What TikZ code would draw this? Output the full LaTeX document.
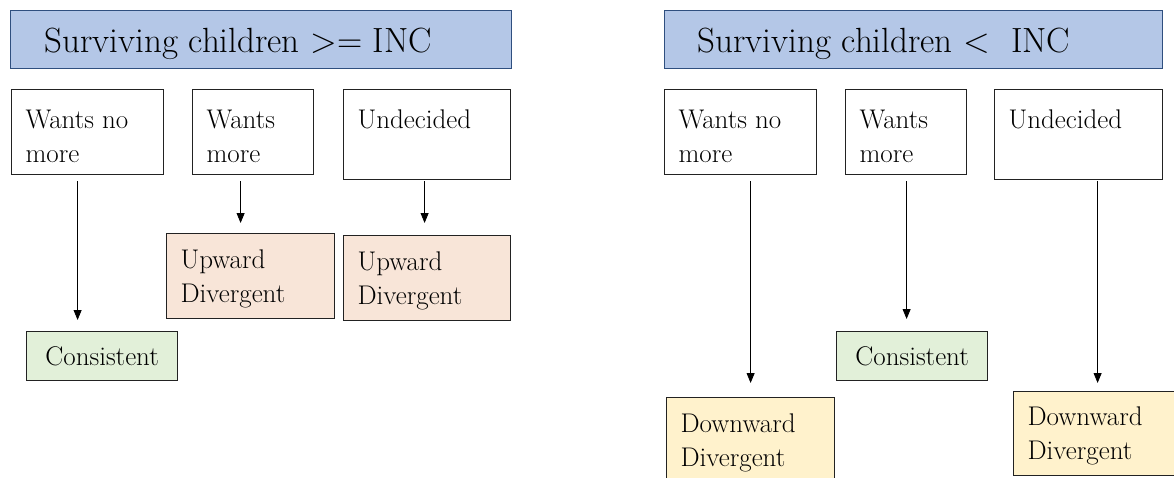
\documentclass[tikz,border=0pt]{standalone}
\usepackage{fontspec}
\usetikzlibrary{arrows.meta,calc}
\definecolor{hdrfill}{HTML}{B4C7E7}
\definecolor{hdrdraw}{HTML}{2F4F7F}
\definecolor{upfill}{HTML}{F8E5D8}
\definecolor{confill}{HTML}{E2F0D9}
\definecolor{dnfill}{HTML}{FFF2CC}
\definecolor{boxdraw}{HTML}{222222}
\newcommand{\bxt}[4]{\parbox[c][#1pt][t]{#2pt}{\rule{0pt}{#3pt}#4}}
\tikzset{
  box/.style={draw=boxdraw, line width=1.2pt, anchor=north west, inner xsep=14pt, inner ysep=0pt,
    font=\fontsize{27}{34}\selectfont},
  hdr/.style={draw=hdrdraw, fill=hdrfill, line width=1.2pt, anchor=north west, inner sep=0pt,
    font=\fontsize{35}{43}\selectfont},
  arr/.style={line width=0.8pt, draw=black, -{Triangle[width=8pt,length=10pt]}}
}
\begin{document}
\begin{tikzpicture}[x=1pt, y=-1pt]
\useasboundingbox (0,0) rectangle (1174,477);
\clip (0,0) rectangle (1174,477);
% left panel
\node[hdr, minimum width=501pt, minimum height=58pt] (hL) at (10,10)
  {\parbox[c][58pt][t]{501pt}{\hspace*{34pt}\rule{0pt}{42pt}Surviving children >= INC}};
\node[box, minimum width=152pt, minimum height=85pt] (wnmL) at (11,89) {\bxt{85}{124}{39}{Wants no\\more}};
\node[box, minimum width=121pt, minimum height=85pt] (wmL) at (192,89) {\bxt{85}{93}{39}{Wants\\more}};
\node[box, minimum width=167pt, minimum height=90pt] (undL) at (343,89) {\bxt{90}{139}{39}{Undecided}};
\node[box, fill=confill, inner xsep=0pt, minimum width=151pt, minimum height=49pt] (conL) at (26,331) {Consistent};
\node[box, fill=upfill, minimum width=168pt, minimum height=85pt] (upL1) at (166,233) {\bxt{85}{140}{35}{Upward\\Divergent}};
\node[box, fill=upfill, minimum width=167pt, minimum height=85pt] (upL2) at (343,235) {\bxt{85}{139}{35}{Upward\\Divergent}};
\draw[arr, shorten <=6pt, shorten >=11pt] ($(wnmL.south)+(-10,0)$) -- ($(conL.north)+(-24.5,0)$);
\draw[arr, shorten <=6pt, shorten >=10pt] ($(wmL.south)+(-12.5,0)$) -- ($(upL1.north)+(-10,0)$);
\draw[arr, shorten <=1pt, shorten >=12pt] ($(undL.south)+(-2.5,0)$) -- ($(upL2.north)+(-2.5,0)$);
% right panel
\node[hdr, minimum width=498pt, minimum height=58pt] (hR) at (664,10)
  {\parbox[c][58pt][t]{498pt}{\hspace*{33pt}\rule{0pt}{42pt}Surviving children <~~INC}};
\node[box, minimum width=152pt, minimum height=85pt] (wnmR) at (664,89) {\bxt{85}{124}{39}{Wants no\\more}};
\node[box, minimum width=121pt, minimum height=85pt] (wmR) at (845,89) {\bxt{85}{93}{39}{Wants\\more}};
\node[box, minimum width=168pt, minimum height=90pt] (undR) at (994,89) {\bxt{90}{140}{39}{Undecided}};
\node[box, fill=confill, inner xsep=0pt, minimum width=151pt, minimum height=49pt] (conR) at (836,331) {Consistent};
\node[box, fill=dnfill, minimum width=168pt, minimum height=85pt] (dnR1) at (666,397) {\bxt{85}{140}{35}{Downward\\Divergent}};
\node[box, fill=dnfill, minimum width=168pt, minimum height=84pt] (dnR2) at (1013,391) {\bxt{84}{140}{34}{Downward\\Divergent}};
\draw[arr, shorten <=6pt, shorten >=14pt] ($(wnmR.south)+(10,0)$) -- ($(dnR1.north)+(0,0)$);
\draw[arr, shorten <=6pt, shorten >=12pt] ($(wmR.south)+(0.5,0)$) -- ($(conR.north)+(-5.5,0)$);
\draw[arr, shorten <=1pt, shorten >=8pt] ($(undR.south)+(19,0)$) -- ($(dnR2.north)+(0,0)$);
\end{tikzpicture}
\end{document}
